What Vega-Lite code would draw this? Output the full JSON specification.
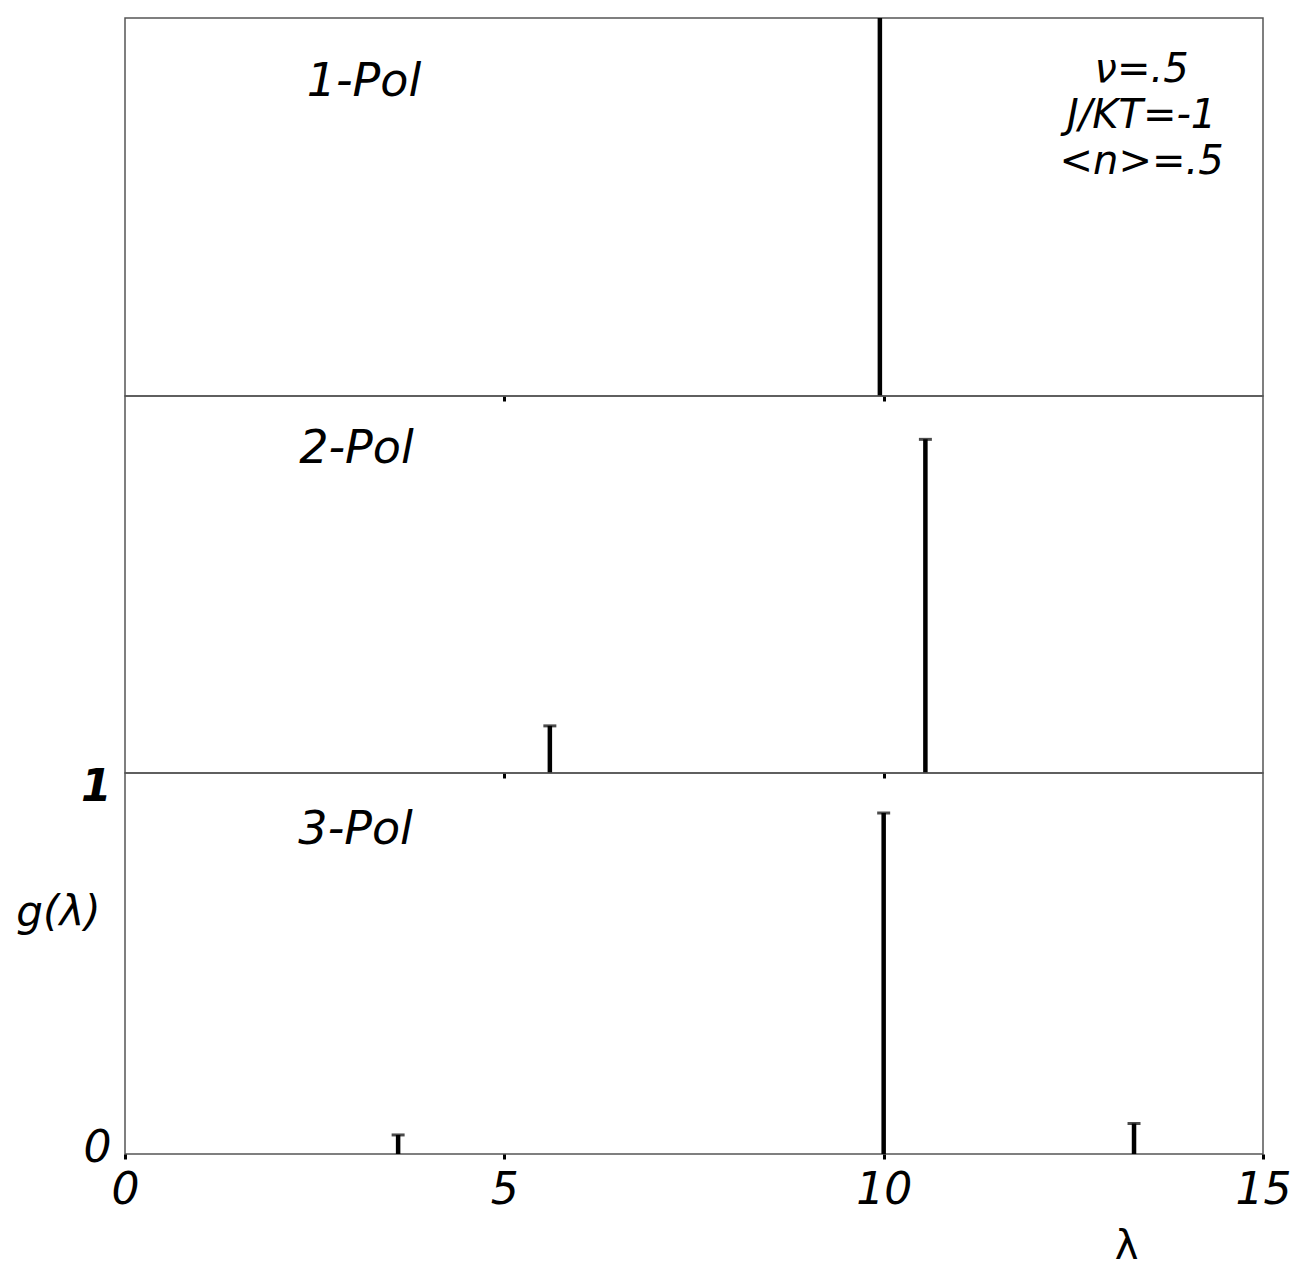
{
  "$schema": "https://vega.github.io/schema/vega-lite/v6.json",
  "background": "white",
  "padding": {"left": 15, "top": 15, "right": 5, "bottom": 5},
  "spacing": 0,
  "bounds": "flush",
  "datasets": {
    "spikes": [
      {"panel": "1-Pol", "lambda": 9.95, "g": 1.0},
      {"panel": "2-Pol", "lambda": 5.6, "g": 0.125},
      {"panel": "2-Pol", "lambda": 10.55, "g": 0.885},
      {"panel": "3-Pol", "lambda": 3.6, "g": 0.05},
      {"panel": "3-Pol", "lambda": 10.0, "g": 0.895},
      {"panel": "3-Pol", "lambda": 13.3, "g": 0.08}
    ]
  },
  "config": {
    "view": {"stroke": "#555", "strokeWidth": 1.5},
    "font": "DejaVu Sans",
    "axis": {"grid": false, "domain": false, "labelColor": "black", "titleColor": "black", "tickColor": "black"},
    "text": {"font": "DejaVu Sans", "fontStyle": "italic", "color": "black"}
  },
  "vconcat": [
    {
      "width": 1138, "height": 378,
      "layer": [
        {
          "data": {"name": "spikes"},
          "transform": [{"filter": "datum.panel == '1-Pol'"}],
          "mark": {"type": "rule", "strokeWidth": 4.5, "color": "black"},
          "encoding": {
            "x": {"field": "lambda", "type": "quantitative", "scale": {"domain": [0, 15], "nice": false},
                  "axis": {"values": [5, 10], "labels": false, "title": null, "tickSize": 5, "tickWidth": 3}},
            "y": {"field": "g", "type": "quantitative", "scale": {"domain": [0, 1], "nice": false}, "axis": null},
            "y2": {"datum": 0}
          }
        },
        {
          "data": {"values": [{"label": "1-Pol"}]},
          "mark": {"type": "text", "fontSize": 46, "align": "center", "baseline": "middle"},
          "encoding": {"x": {"datum": 3.15}, "y": {"datum": 0.83}, "text": {"field": "label"}}
        },
        {
          "data": {"values": [{"label": "note"}]},
          "mark": {"type": "text", "fontSize": 40, "align": "center", "baseline": "top", "lineHeight": 46},
          "encoding": {
            "x": {"datum": 13.4},
            "y": {"datum": 0.915},
            "text": {"value": ["ν=.5", "J/KT=-1", "<n>=.5"]}
          }
        }
      ]
    },
    {
      "width": 1138, "height": 377,
      "layer": [
        {
          "data": {"name": "spikes"},
          "transform": [{"filter": "datum.panel == '2-Pol'"}],
          "mark": {"type": "rule", "strokeWidth": 4.5, "color": "black"},
          "encoding": {
            "x": {"field": "lambda", "type": "quantitative", "scale": {"domain": [0, 15], "nice": false},
                  "axis": {"values": [5, 10], "labels": false, "title": null, "tickSize": 5, "tickWidth": 3}},
            "y": {"field": "g", "type": "quantitative", "scale": {"domain": [0, 1], "nice": false}, "axis": null},
            "y2": {"datum": 0}
          }
        },
        {
          "data": {"name": "spikes"},
          "transform": [{"filter": "datum.panel == '2-Pol'"}],
          "mark": {"type": "tick", "orient": "horizontal", "size": 13, "thickness": 3, "color": "black"},
          "encoding": {
            "x": {"field": "lambda", "type": "quantitative"},
            "y": {"field": "g", "type": "quantitative"}
          }
        },
        {
          "data": {"values": [{"label": "2-Pol"}]},
          "mark": {"type": "text", "fontSize": 46, "align": "center", "baseline": "middle"},
          "encoding": {"x": {"datum": 3.05}, "y": {"datum": 0.86}, "text": {"field": "label"}}
        }
      ]
    },
    {
      "width": 1138, "height": 381,
      "layer": [
        {
          "data": {"name": "spikes"},
          "transform": [{"filter": "datum.panel == '3-Pol'"}],
          "mark": {"type": "rule", "strokeWidth": 4.5, "color": "black"},
          "encoding": {
            "x": {"field": "lambda", "type": "quantitative", "scale": {"domain": [0, 15], "nice": false},
                  "axis": {"values": [0, 5, 10, 15], "format": "d", "title": "λ", "tickSize": 5, "tickWidth": 3,
                           "labelFontSize": 44, "labelFontStyle": "italic",
                           "labelPadding": 9, "labelFlush": false,
                           "titleFontSize": 40, "titleFontWeight": "normal", "titleX": 1001, "titleY": 92, "titleBaseline": "middle", "titleAnchor": null}},
            "y": {"field": "g", "type": "quantitative", "scale": {"domain": [0, 1], "nice": false},
                  "axis": {"values": [0, 1], "format": "d", "ticks": false, "labelPadding": 14, "labelFontSize": 44,
                           "labelFontStyle": "italic",
                           "labelOffset": {"condition": {"test": "datum.value == 1", "value": 14}, "value": -6},
                           "labelFontWeight": {"condition": {"test": "datum.value == 1", "value": "bold"}, "value": "normal"},
                           "title": "g(λ)", "titleAngle": 0, "titleFontSize": 42, "titleFontWeight": "normal", "titleFontStyle": "italic",
                           "titleX": -67, "titleY": 139, "titleAlign": "center", "titleBaseline": "middle"}},
            "y2": {"datum": 0}
          }
        },
        {
          "data": {"name": "spikes"},
          "transform": [{"filter": "datum.panel == '3-Pol'"}],
          "mark": {"type": "tick", "orient": "horizontal", "size": 13, "thickness": 3, "color": "black"},
          "encoding": {
            "x": {"field": "lambda", "type": "quantitative"},
            "y": {"field": "g", "type": "quantitative"}
          }
        },
        {
          "data": {"values": [{"label": "3-Pol"}]},
          "mark": {"type": "text", "fontSize": 46, "align": "center", "baseline": "middle"},
          "encoding": {"x": {"datum": 3.04}, "y": {"datum": 0.85}, "text": {"field": "label"}}
        }
      ]
    }
  ]
}
